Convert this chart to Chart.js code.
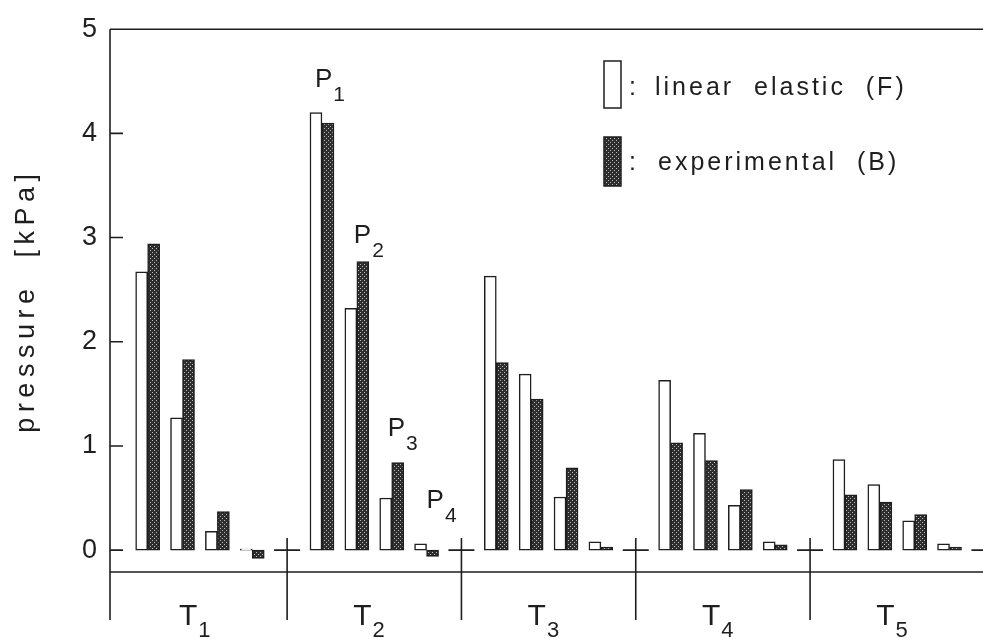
<!DOCTYPE html>
<html>
<head>
<meta charset="utf-8">
<script src="https://cdn.jsdelivr.net/npm/chart.js@4.4.0/dist/chart.umd.min.js"></script>
<style>
  html, body { margin: 0; padding: 0; background: #fff; }
  #wrap { width: 983px; height: 639px; }
</style>
</head>
<body>
<div id="wrap"><canvas id="pressureChart" width="983" height="639"></canvas></div>
<script>
// pressure at points P1..P4 on each tooth T1..T5
const teeth = ['1', '2', '3', '4', '5'];
const points = ['1', '2', '3', '4'];
const linearElastic = [
  [2.67, 1.27, 0.18, 0.01],
  [4.20, 2.32, 0.50, 0.06],
  [2.63, 1.69, 0.51, 0.08],
  [1.63, 1.12, 0.43, 0.08],
  [0.87, 0.63, 0.28, 0.06]
];
const experimental = [
  [2.94, 1.83, 0.37, -0.08],
  [4.10, 2.77, 0.84, -0.06],
  [1.80, 1.45, 0.79, 0.03],
  [1.03, 0.86, 0.58, 0.05],
  [0.53, 0.46, 0.34, 0.03]
];
const yTicks = [0, 1, 2, 3, 4, 5];

const INK = '#1e1e1e';
const FONT = '"Liberation Sans", Arial, sans-serif';
const SLOTS = points.length + 1; // one empty slot per tooth holds the separator

// dotted dark fill for the experimental bars
function makeDots() {
  const c = document.createElement('canvas');
  c.width = 4; c.height = 4;
  const g = c.getContext('2d');
  g.fillStyle = '#2e2e2e';
  g.fillRect(0, 0, 4, 4);
  g.fillStyle = '#bcbcbc';
  g.fillRect(0, 0, 1, 1);
  g.fillRect(2, 2, 1, 1);
  return g.createPattern(c, 'repeat');
}
const ctx = document.getElementById('pressureChart').getContext('2d');
const dots = makeDots();

function toPoints(rows) {
  return rows.flatMap((row, t) => row.map((v, p) => ({ x: t * SLOTS + p + 1, y: v })));
}

function withSub(c, main, idx, x, y, big, small, drop) {
  c.font = big + 'px ' + FONT;
  c.fillText(main, x, y);
  const w = c.measureText(main).width;
  c.font = small + 'px ' + FONT;
  c.fillText(idx, x + w + 1, y + drop);
}

// box lines, inward ticks, tooth separators and all annotation text
const frame = {
  id: 'frame',
  afterDatasetsDraw(chart) {
    const c = chart.ctx;
    const a = chart.chartArea;
    const x = chart.scales.x, y = chart.scales.y;
    const y0 = y.getPixelForValue(0);
    c.save();
    c.strokeStyle = INK;
    c.lineWidth = 1.6;
    c.beginPath();
    c.moveTo(a.left, a.top); c.lineTo(a.right, a.top);
    c.moveTo(a.left, a.bottom); c.lineTo(a.right, a.bottom);
    c.moveTo(a.left, a.top); c.lineTo(a.left, a.bottom + 48);
    yTicks.slice(0, -1).forEach(v => {
      const py = y.getPixelForValue(v);
      c.moveTo(a.left, py); c.lineTo(a.left + 13, py);
    });
    for (let t = 1; t <= teeth.length; t++) {
      const px = x.getPixelForValue(t * SLOTS);
      c.moveTo(px, y0 - 12); c.lineTo(px, a.bottom + 48);
      c.moveTo(px - 13, y0); c.lineTo(px + 13, y0);
    }
    c.stroke();

    c.fillStyle = INK;
    c.textAlign = 'left';
    c.textBaseline = 'alphabetic';

    // tooth names under the base line
    teeth.forEach((n, t) => {
      const cx = x.getPixelForValue(t * SLOTS + SLOTS / 2);
      withSub(c, 'T', n, cx - 21, a.bottom + 53, 30, 22, 12);
    });

    // point names beside the bars of the second tooth
    const pShift = [-7, -3, -4, 0];
    const pLevel = [4.45, 2.95, 1.10, 0.40];
    points.forEach((n, p) => {
      const px = x.getPixelForValue(SLOTS + p + 1);
      withSub(c, 'P', n, px + pShift[p], y.getPixelForValue(pLevel[p]), 26, 21, 14);
    });

    // legend
    const ds = chart.data.datasets;
    const lx = 604;
    c.lineWidth = 1.5;
    c.fillStyle = '#fff';
    c.fillRect(lx, 61, 17, 47);
    c.strokeRect(lx, 61, 17, 47);
    c.fillStyle = dots;
    c.fillRect(lx, 137, 17, 49);
    c.strokeRect(lx, 137, 17, 49);
    c.fillStyle = INK;
    c.font = '25px ' + FONT;
    c.fillText(':', 629, 95);
    c.fillText(':', 629, 170);
    c.letterSpacing = '3px';
    c.fillText(ds[0].label, 655, 95);
    c.fillText(ds[1].label, 658, 170);

    // y title
    c.letterSpacing = '5.5px';
    c.font = '27px ' + FONT;
    c.translate(27, (a.top + a.bottom) / 2);
    c.rotate(-Math.PI / 2);
    c.textAlign = 'center';
    c.textBaseline = 'middle';
    c.fillText('pressure  [kPa]', 0, 0);
    c.restore();
  }
};

const pressureChart = new Chart(ctx, {
  type: 'bar',
  data: {
    datasets: [{
      label: 'linear  elastic  (F)',
      data: toPoints(linearElastic),
      backgroundColor: '#ffffff',
      borderColor: INK,
      borderWidth: 1.5,
      borderSkipped: false
    }, {
      label: 'experimental  (B)',
      data: toPoints(experimental),
      backgroundColor: dots,
      borderColor: INK,
      borderWidth: 1.5,
      borderSkipped: false
    }]
  },
  options: {
    responsive: false,
    animation: false,
    devicePixelRatio: 1,
    barThickness: 12,
    layout: { padding: { top: 20, bottom: 67, left: 0, right: 0 } },
    plugins: {
      legend: { display: false },
      tooltip: { enabled: false }
    },
    scales: {
      x: {
        type: 'linear',
        min: -0.08,
        max: 24.96,
        offset: false,
        display: false
      },
      y: {
        min: -0.21,
        max: 5,
        afterFit(scale) { scale.width = 110; },
        afterBuildTicks(scale) { scale.ticks = yTicks.map(v => ({ value: v })); },
        grid: { display: false, drawTicks: false },
        border: { display: false },
        ticks: {
          color: INK,
          padding: 13,
          font: { size: 27, family: FONT }
        }
      }
    }
  },
  plugins: [frame]
});
</script>
</body>
</html>
